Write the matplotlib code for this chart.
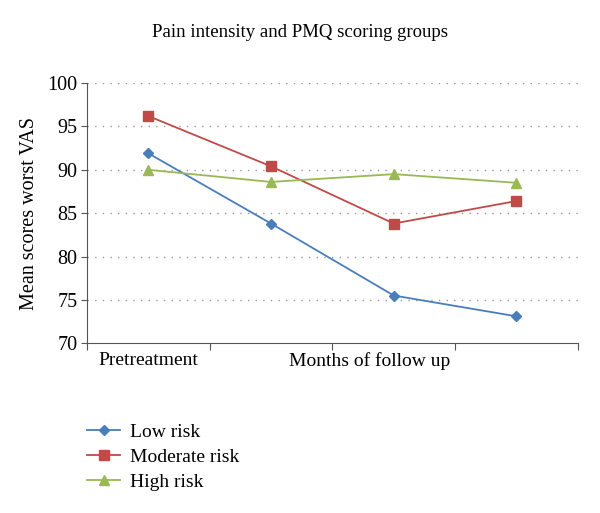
import numpy as np
import matplotlib.pyplot as plt
from matplotlib.ticker import MultipleLocator

plt.rcParams['font.family'] = ['Liberation Serif', 'DejaVu Serif']

periods = ["Pretreatment", "", "", ""]
low_risk = [91.9, 83.8, 75.5, 73.1]
moderate_risk = [96.2, 90.4, 83.8, 86.4]
high_risk = [90.0, 88.6, 89.5, 88.5]

series = [
    ("Low risk", low_risk, "#4a7ebb", "D", 5),
    ("Moderate risk", moderate_risk, "#be4b48", "s", 7),
    ("High risk", high_risk, "#98b954", "^", 7),
]

fig = plt.figure(figsize=(6.0, 5.13), dpi=100)
ax = fig.add_axes([0.145, 0.331, 0.818, 0.507])

x = np.arange(len(periods))
handles = []
for name, vals, col, mk, ms in series:
    l, = ax.plot(x, vals, '-', color=col, marker=mk, markersize=ms,
                 linewidth=1.3, label=name)
    handles.append(l)

ax.set_xlim(-0.5, len(periods) - 0.5)
ax.set_ylim(70, 100)
ax.yaxis.set_major_locator(MultipleLocator(5))
ax.set_xticks(np.arange(len(periods) + 1) - 0.5)
ax.set_xticklabels([])
ax.tick_params(axis='x', direction='out', length=5, color='#555555')
ax.tick_params(axis='y', direction='out', length=4, color='#555555',
               labelsize=14.5, pad=3)

# dotted gridlines, none on the 70 baseline
for yv in range(75, 101, 5):
    ax.axhline(yv, color='#999999', linestyle=(0, (1, 4.5)), linewidth=1.0, zorder=0)

for s in ['top', 'right']:
    ax.spines[s].set_visible(False)
for s in ['left', 'bottom']:
    ax.spines[s].set_color('#555555')

ax.text(0, -0.035, periods[0], transform=ax.get_xaxis_transform(),
        ha='center', va='top', fontsize=14)
ax.text(0.576, -0.035, "Months of follow up", transform=ax.transAxes,
        ha='center', va='top', fontsize=14)
ax.set_ylabel("Mean scores worst VAS", fontsize=14.5, labelpad=6)
fig.text(0.5, 0.936, "Pain intensity and PMQ scoring groups", ha='center',
         va='center', fontsize=13.5)

fig.legend(handles=handles, loc='upper left', bbox_to_anchor=(0.145, 0.175),
           frameon=False, fontsize=14, handlelength=1.7, handletextpad=0.5,
           labelspacing=0.38, borderaxespad=0, borderpad=0)

fig.savefig("out.png", dpi=100)
